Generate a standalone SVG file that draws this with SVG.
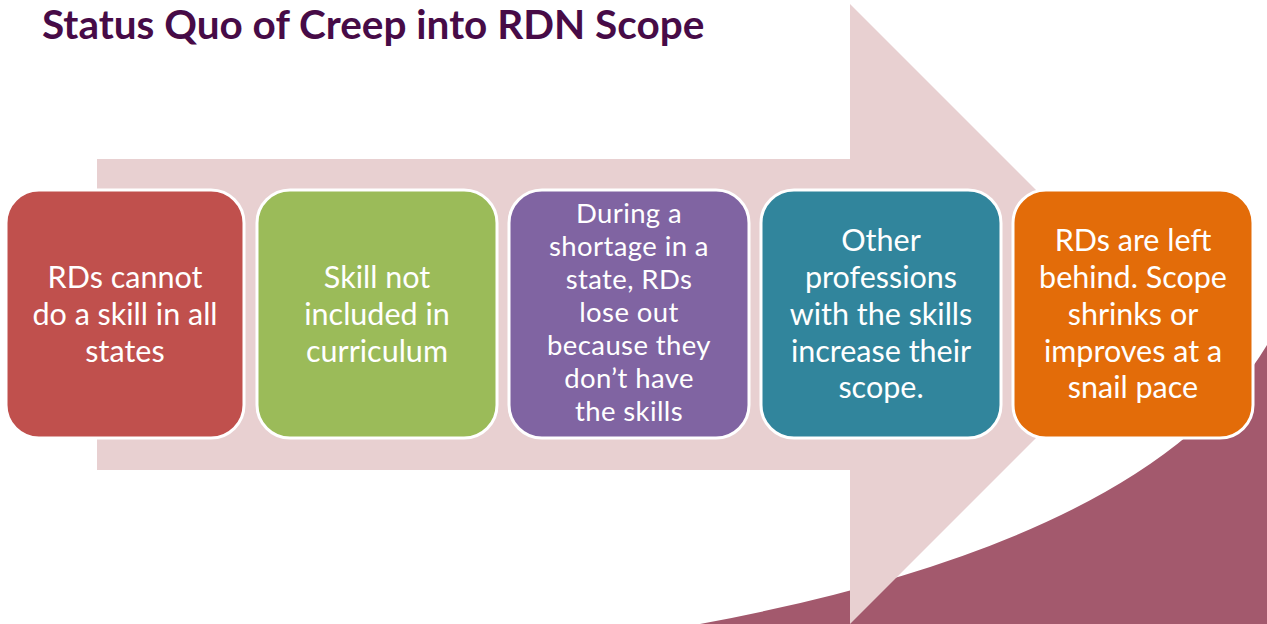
<svg xmlns="http://www.w3.org/2000/svg" width="1267" height="624" viewBox="0 0 1267 624">
<style>
.box{stroke:#fff;stroke-width:3}
.t{font-family:Lato,"Open Sans","Liberation Sans",sans-serif;font-size:30.5px;fill:#fff;text-anchor:middle}
.s{font-size:27.5px;letter-spacing:0.4px}
.title{font-family:Lato,"Open Sans","Liberation Sans",sans-serif;font-weight:bold;font-size:40.5px;fill:#470B47}
</style>
<rect width="1267" height="624" fill="#fff"/>
<path d="M700,624 Q1150,540 1267,345 L1267,624 Z" fill="#A3596D"/>
<path d="M97,159 L850,159 L850,4 L1160,314 L850,624 L850,470 L97,470 Z" fill="#E8D0D1"/>
<text class="title" x="42" y="39">Status Quo of Creep into RDN Scope</text>
<g id="n1"><rect class="box" x="6" y="190" width="238" height="248" rx="33" fill="#C0504D"/>
<text class="t" x="125" y="288">RDs cannot</text><text class="t" x="125" y="325">do a skill in all</text><text class="t" x="125" y="362">states</text></g>
<g id="n2"><rect class="box" x="257" y="190" width="240" height="248" rx="33" fill="#9BBB59"/>
<text class="t" x="377" y="288">Skill not</text><text class="t" x="377" y="325">included in</text><text class="t" x="377" y="362">curriculum</text></g>
<g id="n3"><rect class="box" x="509" y="190" width="240" height="248" rx="33" fill="#8064A2"/>
<text class="t s" x="629" y="223">During a</text><text class="t s" x="629" y="256">shortage in a</text><text class="t s" x="629" y="289">state, RDs</text><text class="t s" x="629" y="322">lose out</text><text class="t s" x="629" y="355">because they</text><text class="t s" x="629" y="388">don’t have</text><text class="t s" x="629" y="421">the skills</text></g>
<g id="n4"><rect class="box" x="761" y="190" width="240" height="248" rx="33" fill="#31859C"/>
<text class="t" x="881" y="251">Other</text><text class="t" x="881" y="288">professions</text><text class="t" x="881" y="325">with the skills</text><text class="t" x="881" y="362">increase their</text><text class="t" x="881" y="398">scope.</text></g>
<g id="n5"><rect class="box" x="1013" y="190" width="240" height="248" rx="33" fill="#E36C09"/>
<text class="t" x="1133" y="251">RDs are left</text><text class="t" x="1133" y="288">behind. Scope</text><text class="t" x="1133" y="325">shrinks or</text><text class="t" x="1133" y="362">improves at a</text><text class="t" x="1133" y="398">snail pace</text></g>
<g id="connectors"></g>
</svg>
